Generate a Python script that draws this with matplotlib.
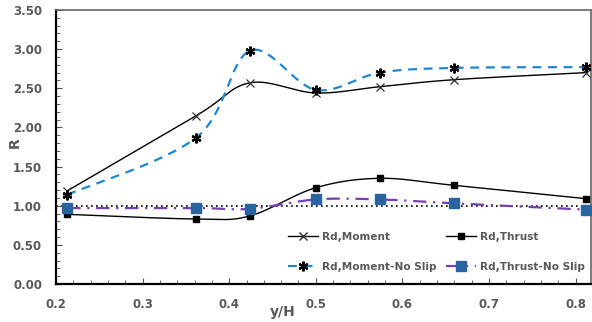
import numpy as np
import matplotlib
matplotlib.use("Agg")
import matplotlib.pyplot as plt
from matplotlib.ticker import MultipleLocator
from matplotlib.lines import Line2D

x = [0.213, 0.362, 0.424, 0.500, 0.574, 0.660, 0.812]
moment = [1.19, 2.15, 2.57, 2.44, 2.52, 2.61, 2.70]
thrust = [0.89, 0.83, 0.87, 1.23, 1.35, 1.26, 1.09]
moment_ns = [1.14, 1.87, 2.98, 2.48, 2.70, 2.76, 2.77]
thrust_ns = [0.97, 0.97, 0.96, 1.08, 1.08, 1.03, 0.95]
labels = ["Rd,Moment", "Rd,Thrust", "Rd,Moment-No Slip", "Rd,Thrust-No Slip"]


def smooth(xs, ys, n=40):
    # Bezier smoothing through the points (like Excel smoothed lines)
    P = np.column_stack([np.asarray(xs, float), np.asarray(ys, float)])
    out = []
    m = len(P)
    for i in range(m - 1):
        p0 = P[i - 1] if i > 0 else P[i]
        p1 = P[i]; p2 = P[i + 1]
        p3 = P[i + 2] if i + 2 < m else P[i + 1]
        c1 = p1 + (p2 - p0) / 6.0
        c2 = p2 - (p3 - p1) / 6.0
        t = np.linspace(0, 1, n)[:, None]
        seg = ((1 - t) ** 3) * p1 + 3 * ((1 - t) ** 2) * t * c1 + 3 * (1 - t) * t ** 2 * c2 + t ** 3 * p2
        out.append(seg if i == 0 else seg[1:])
    S = np.vstack(out)
    return S[:, 0], S[:, 1]


fig = plt.figure(figsize=(5.92, 3.22), dpi=100)
ax = fig.add_axes([0.0946, 0.118, 0.904, 0.851])

ax.axhline(1.0, color="black", linestyle=(0, (1, 2)), linewidth=1.2, zorder=1)

sx, sy = smooth(x, moment)
ax.plot(sx, sy, color="black", linewidth=1.0, zorder=3)
ax.plot(x, moment, linestyle="none", marker="x", color="#333333", markersize=6, markeredgewidth=0.9, zorder=4)

sx, sy = smooth(x, thrust)
ax.plot(sx, sy, color="black", linewidth=1.0, zorder=3)
ax.plot(x, thrust, linestyle="none", marker="s", color="black", markersize=4, zorder=4)

sx, sy = smooth(x, moment_ns)
ax.plot(sx, sy, color="#1f86d6", linewidth=1.6, linestyle=(0, (4, 3)), zorder=3)
ax.plot(x, moment_ns, linestyle="none", marker=(6, 2, 0), color="black", markersize=7, markeredgewidth=1.6, zorder=4)

sx, sy = smooth(x, thrust_ns)
ax.plot(sx, sy, color="#7a3db8", linewidth=1.6, linestyle=(0, (6, 3, 1, 3)), zorder=3)
ax.plot(x, thrust_ns, linestyle="none", marker="s", color="#2a64a0", markersize=7, zorder=4)

h = [
    Line2D([], [], color="black", linewidth=1.0, marker="x", markersize=6, markeredgecolor="#333333"),
    Line2D([], [], color="black", linewidth=1.0, marker="s", markersize=4),
    Line2D([], [], color="#1f86d6", linewidth=1.6, linestyle=(0, (4, 3)), marker=(6, 2, 0), markersize=7,
           markeredgecolor="black", markeredgewidth=1.6),
    Line2D([], [], color="#7a3db8", linewidth=1.6, linestyle=(0, (6, 3, 1, 3)), marker="s", markersize=7,
           markerfacecolor="#2a64a0", markeredgecolor="#2a64a0"),
]
# legend fills column-major; reorder to get row-major layout
order = [0, 2, 1, 3]
leg = ax.legend([h[i] for i in order], [labels[i] for i in order], ncol=2, loc="lower right",
                bbox_to_anchor=(1.0, 0.02), frameon=False,
                prop={"family": "DejaVu Sans", "weight": "bold", "size": 7.6}, labelcolor="#595959",
                handlelength=2.8, columnspacing=0.9, labelspacing=1.9, handletextpad=0.4,
                borderaxespad=0.2)

ax.set_xlim(0.2, 0.818)
ax.set_ylim(0, 3.5)
ax.xaxis.set_minor_locator(MultipleLocator(0.02))
ax.yaxis.set_minor_locator(MultipleLocator(0.1))
yt = [0.0, 0.5, 1.0, 1.5, 2.0, 2.5, 3.0, 3.5]
ax.set_yticks(yt)
ax.set_yticklabels([f"{v:.2f}" for v in yt])
ax.set_xticks([0.2, 0.3, 0.4, 0.5, 0.6, 0.7, 0.8])
ax.set_xticklabels(["0.2", "0.3", "0.4", "0.5", "0.6", "0.7", "0.8"])
ax.tick_params(which="both", direction="in", color="#555555")
ax.tick_params(which="major", length=4, labelsize=8.5, labelcolor="#595959")
ax.tick_params(axis="x", which="major", pad=10)
ax.tick_params(axis="y", which="major", pad=10)
ax.tick_params(which="minor", length=3)
for lab in ax.get_xticklabels() + ax.get_yticklabels():
    lab.set_fontweight("bold")

for side in ["left", "bottom"]:
    ax.spines[side].set_linewidth(1.6)
    ax.spines[side].set_color("black")
for side in ["top", "right"]:
    ax.spines[side].set_linewidth(1.2)
    ax.spines[side].set_color("#666666")

ax.set_xlabel("y/H", fontsize=10, fontweight="bold", color="#595959")
ax.xaxis.set_label_coords(0.424, -0.103, transform=ax.transAxes)
ax.xaxis.label.set_verticalalignment("center")
ax.set_ylabel("R", fontsize=10, fontweight="bold", color="#595959")
ax.yaxis.set_label_coords(-0.078, 0.515, transform=ax.transAxes)
ax.yaxis.label.set_verticalalignment("center")

fig.savefig("out.png", dpi=100)
